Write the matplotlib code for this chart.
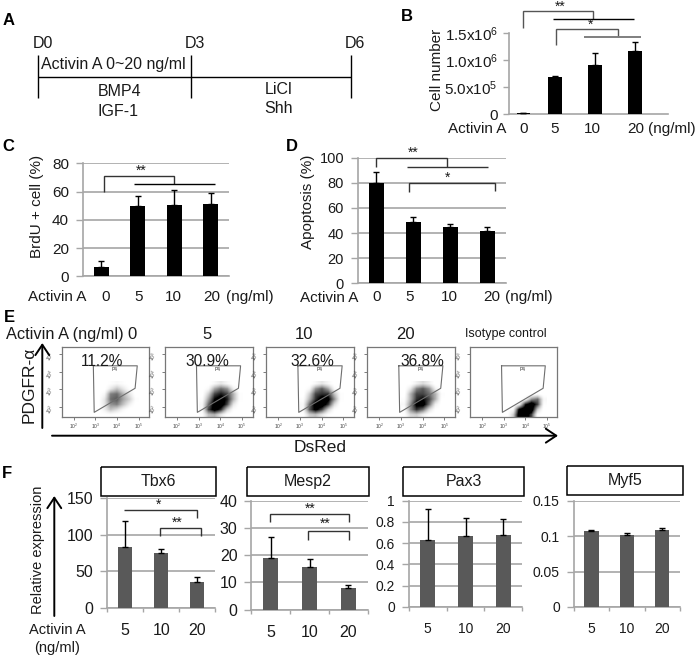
import matplotlib.pyplot as plt
from matplotlib.colors import PowerNorm

plt.rcParams['font.family'] = ['Liberation Sans', 'DejaVu Sans']
plt.rcParams['mathtext.fontset'] = 'custom'
plt.rcParams['mathtext.rm'] = 'Liberation Sans'
plt.rcParams['mathtext.default'] = 'rm'

GRID = '#a6a6a6'

# panel B
b_values = [0.02e6, 0.696e6, 0.913e6, 1.18e6]
b_errors = [0.0, 0.01e6, 0.217e6, 0.16e6]
b_ticks = [0, 0.5e6, 1.0e6, 1.5e6]
b_ticklabels = ['0', r'5.0x10$^{5}$', r'1.0x10$^{6}$', r'1.5x10$^{6}$']

# panel C
c_values = [6.5, 49.5, 50.5, 51.5]
c_errors = [4.0, 7.5, 10.5, 7.5]
c_ticks = [0, 20, 40, 60, 80]

# panel D
d_values = [80, 49, 45, 42]
d_errors = [9, 4, 2.5, 3]
d_ticks = [0, 20, 40, 60, 80, 100]

doses = ['5', '10', '20']

# panel F
tbx6_values = [83, 74.5, 35]
tbx6_errors = [36, 5.5, 7.5]
tbx6_ticks = [0, 50, 100, 150]
mesp2_values = [19, 15.5, 8]
mesp2_errors = [7.7, 3.2, 1.2]
mesp2_ticks = [0, 10, 20, 30, 40]
pax3_values = [0.63, 0.67, 0.68]
pax3_errors = [0.295, 0.165, 0.145]
pax3_ticks = [0, 0.2, 0.4, 0.6, 0.8, 1]
pax3_ticklabels = ['0', '0.2', '0.4', '0.6', '0.8', '1']
myf5_values = [0.107, 0.102, 0.108]
myf5_errors = [0.002, 0.002, 0.003]
myf5_ticks = [0, 0.05, 0.1, 0.15]
myf5_ticklabels = ['0', '0.05', '0.1', '0.15']

# panel E, density of events read by eye, rows top to bottom
flow_percent = ['11.2%', '30.9%', '32.6%', '36.8%', None]
flow_header = ['0', '5', '10', '20', 'Isotype control']
flow_gate_x = [2.9, 4.94, 4.84, 2.94, 2.9]
flow_gate_y = [4.33, 4.33, 3.06, 1.70, 4.33]
flow_density_0 = [[0, 0, .05, .1, .05, 0, 0],
                  [0, 0, .2, .35, .2, .05, 0],
                  [0, .1, .55, .6, .4, .2, 0],
                  [0, .2, .6, .65, .45, .3, .05],
                  [0, .2, .5, .55, .35, .15, 0],
                  [0, .15, .35, .25, .1, 0, 0],
                  [0, .02, .05, .02, 0, 0, 0]]
flow_density_5 = [[0, 0, .1, .2, .1, 0, 0],
                  [0, .1, .45, .6, .5, .15, 0],
                  [0, .3, .7, .8, .7, .4, .05],
                  [.05, .45, .85, .95, .8, .4, .05],
                  [.1, .6, .95, 1, .7, .2, 0],
                  [.1, .7, .95, .75, .3, .05, 0],
                  [.05, .35, .4, .2, .03, 0, 0]]
flow_density_10 = [[0, 0, .1, .2, .1, 0, 0],
                   [0, .1, .5, .65, .45, .1, 0],
                   [0, .3, .7, .75, .75, .35, .05],
                   [.05, .4, .75, .95, .9, .5, .05],
                   [.1, .6, .95, 1, .75, .25, 0],
                   [.1, .65, .9, .7, .3, .05, 0],
                   [.03, .3, .35, .2, .05, 0, 0]]
flow_density_20 = [[0, .02, .15, .25, .15, 0, 0],
                   [0, .2, .55, .65, .5, .15, 0],
                   [0, .4, .7, .7, .6, .4, .05],
                   [.05, .4, .75, .85, .7, .4, .02],
                   [.1, .5, .9, .95, .6, .15, 0],
                   [.05, .5, .75, .6, .25, .03, 0],
                   [.02, .25, .3, .15, .02, 0, 0]]
flow_density_iso = [[0, 0, 0, 0, 0, 0, 0],
                    [0, 0, 0, 0, 0, 0, 0],
                    [0, 0, 0, 0, 0, .05, 0],
                    [0, 0, 0, .1, .5, .6, .1],
                    [0, 0, .15, .8, 1, .7, .05],
                    [0, .1, .9, 1, 1, .3, 0],
                    [0, .3, 1, 1, .7, .05, 0]]
flow_density = [flow_density_0, flow_density_5, flow_density_10, flow_density_20, flow_density_iso]
flow_ticks = [2, 3, 4, 5]

W, H = 699, 659
fig = plt.figure(figsize=(W / 100, H / 100), dpi=100)


def px_axes(left, top, right, bottom):
    return fig.add_axes([left / W, 1 - bottom / H, (right - left) / W, (bottom - top) / H])


def bar_panel(box, values, errors, ticks, top, color, ticklabels=None, positions=None,
              xlim=None, width=0.4, fontsize=11, grid=True, xlabels=None, box_pad=4):
    axis = px_axes(*box)
    if positions is None:
        positions = list(range(len(values)))
    if xlim is None:
        xlim = (-0.5, len(values) - 0.5)
    axis.bar(positions, values, width, color=color, zorder=3)
    axis.errorbar(positions, values, yerr=[[0] * len(values), errors], fmt='none', ecolor='black',
                  elinewidth=1, capsize=2.5, capthick=1, zorder=4)
    axis.set_xlim(*xlim)
    axis.set_ylim(0, top)
    axis.set_yticks(ticks)
    axis.set_yticklabels(ticklabels if ticklabels else [str(t) for t in ticks], fontsize=fontsize, color='#1a1a1a')
    axis.tick_params(axis='y', length=box_pad, width=1, color=GRID, pad=box_pad)
    for side in ('top', 'right'):
        axis.spines[side].set_visible(False)
    for side in ('left', 'bottom'):
        axis.spines[side].set_color(GRID)
        axis.spines[side].set_linewidth(1.2)
    if grid:
        axis.grid(axis='y', color=GRID, linewidth=1.2, zorder=1)
    axis.set_axisbelow(True)
    if xlabels:
        axis.set_xticks(positions)
        axis.set_xticklabels(xlabels, fontsize=fontsize, color='#1a1a1a')
        axis.tick_params(axis='x', length=0, pad=11)
        axis.set_xticks([p + 0.5 for p in [-1] + positions], minor=True)
        axis.tick_params(axis='x', which='minor', length=3, width=1, color=GRID)
    else:
        axis.set_xticks([])
    return axis


bar_panel((509, 33.3, 668, 114.3), b_values, b_errors, b_ticks, 1.5e6, 'black', b_ticklabels,
          positions=[0.21, 1, 2, 3], xlim=(-0.15, 3.825), width=0.33, grid=False)
bar_panel((83, 163.3, 229, 276.3), c_values, c_errors, c_ticks, 80, 'black', width=0.4, box_pad=5)
bar_panel((358, 157.7, 505.7, 283.3), d_values, d_errors, d_ticks, 100, 'black', fontsize=10.5, width=0.4, box_pad=5)

bar_panel((107, 498.3, 215.3, 607.7), tbx6_values, tbx6_errors, tbx6_ticks, 150, '#595959',
          fontsize=11.5, xlabels=doses, box_pad=5)
bar_panel((251.3, 500.7, 367.7, 609.7), mesp2_values, mesp2_errors, mesp2_ticks, 40, '#595959',
          fontsize=11.5, xlabels=doses, box_pad=5)
bar_panel((408.7, 500.7, 522.3, 607), pax3_values, pax3_errors, pax3_ticks, 1, '#595959', pax3_ticklabels,
          fontsize=10, xlabels=doses, box_pad=5)
bar_panel((573.7, 500.7, 680, 607), myf5_values, myf5_errors, myf5_ticks, 0.15, '#595959', myf5_ticklabels,
          fontsize=10, xlabels=doses, box_pad=5)

# flow plots
flow_lefts = [61.7, 164.7, 266, 367, 470]
flow_rights = [149.3, 252.7, 354.3, 455, 557.3]
for i in range(5):
    axis = px_axes(flow_lefts[i], 346.7, flow_rights[i], 417.3)
    axis.imshow(flow_density[i], extent=(3.0, 5.0, 1.4, 3.4), cmap='gray_r',
                norm=PowerNorm(gamma=1.6, vmin=0, vmax=0.85),
                interpolation='bilinear', aspect='auto', zorder=1)
    axis.plot(flow_gate_x, flow_gate_y, color='#6e6e6e', linewidth=0.8, zorder=2)
    axis.text(3.9, 4.1, 'P4', fontsize=3.5, ha='center', va='center', color='#333333')
    axis.set_xlim(1.43, 5.5)
    axis.set_ylim(1.42, 5.41)
    axis.set_xticks(flow_ticks)
    axis.set_yticks(flow_ticks)
    axis.set_xticklabels([f'10$^{t}$' for t in flow_ticks], fontsize=3.5, color='#444444')
    axis.set_yticklabels([f'10$^{t}$' for t in flow_ticks], fontsize=3.5, color='#444444', rotation=60)
    axis.tick_params(length=2, width=0.6, color='#666666', pad=1.5)
    for spine in axis.spines.values():
        spine.set_color('#777777')
        spine.set_linewidth(0.9)

# everything else is drawn in picture pixels on top of the axes
over = fig.add_axes([0, 0, 1, 1], zorder=10)
over.set_xlim(0, W)
over.set_ylim(H, 0)
over.axis('off')


def label(x, y, s, size=11, **kw):
    kw.setdefault('ha', 'center')
    kw.setdefault('va', 'center')
    kw.setdefault('color', '#1a1a1a')
    over.text(x, y, s, fontsize=size, **kw)


def path(xs, ys, color='black', lw=1.0):
    over.plot(xs, ys, color=color, linewidth=lw, solid_capstyle='butt', solid_joinstyle='miter')


def arrow(x0, y0, x1, y1):
    over.annotate('', xy=(x1, y1), xytext=(x0, y0),
                  arrowprops=dict(arrowstyle='->,head_length=0.75,head_width=0.5', color='black',
                                  linewidth=1.4, shrinkA=0, shrinkB=0))


for s, x, y in [('A', 9, 20.7), ('B', 406.7, 16.7), ('C', 8.3, 146.7), ('D', 291.7, 146.7),
                ('E', 9, 317.7), ('F', 7.3, 474)]:
    label(x, y, s, size=12, fontweight='bold', color='black')

# panel A
for x in (38.3, 190.7, 350.7):
    path([x, x], [55, 98.3])
path([38.3, 350.7], [76.7, 76.7])
label(42.7, 43.3, 'D0', 11.5)
label(195.3, 43.3, 'D3', 11.5)
label(355.3, 43.3, 'D6', 11.5)
label(41, 64.3, 'Activin A 0~20 ng/ml', 11.5, ha='left')
label(119.3, 91.7, 'BMP4', 11.5)
label(117.7, 111, 'IGF-1', 11.5)
label(279, 89.3, 'LiCl', 11.5)
label(279, 108.3, 'Shh', 11.5)

# panel B text and brackets
label(436.7, 70, 'Cell number', 11, rotation=90)
label(447.7, 129.3, 'Activin A', 11, ha='left')
for s, x in [('0', 524), ('5', 555), ('10', 592), ('20', 635.7)]:
    label(x, 129.3, s, 11)
label(648, 129.3, '(ng/ml)', 11, ha='left')
path([522.7, 522.7, 593.3, 593.3], [28.3, 11, 11, 19.3], '#555555')
path([553.3, 634.3], [19.3, 19.3])
path([556, 556, 617.7, 617.7], [45, 28.7, 28.7, 36.7], '#555555')
path([584, 641], [36.7, 36.7], '#7f7f7f', 1.4)
label(560, 6.5, '**', 10)
label(590.7, 25, '*', 10)

# panel C text and brackets
label(36.7, 206.7, 'BrdU + cell (%)', 11, rotation=90)
label(28.3, 296.7, 'Activin A', 11, ha='left')
for s, x in [('0', 105.3), ('5', 138.7), ('10', 173), ('20', 211.7)]:
    label(x, 296.7, s, 11)
label(225.7, 296.7, '(ng/ml)', 11, ha='left')
path([103.7, 103.7, 174.3, 174.3], [191.7, 175.7, 175.7, 184], '#333333')
path([134.3, 215], [184, 184])
label(141, 171, '**', 10)

# panel D text and brackets
label(308.3, 201.7, 'Apoptosis (%)', 11, rotation=90)
label(300, 297.5, 'Activin A', 11, ha='left')
for s, x in [('0', 376.7), ('5', 410), ('10', 449.3), ('20', 491.7)]:
    label(x, 296.7, s, 11)
label(505, 296.7, '(ng/ml)', 11, ha='left')
path([376, 376, 446.7, 446.7], [166.7, 158.3, 158.3, 166.7], '#333333')
path([406.7, 487.7], [166.7, 166.7], '#333333')
path([409.3, 409.3, 494.7, 494.7], [191.7, 183, 183, 191], '#333333')
label(413.3, 153, '**', 10)
label(448, 178, '*', 10)

# panel E text
label(6, 334, 'Activin A (ng/ml)', 11.8, ha='left')
header_x = [131.7, 206.7, 304, 405, 506]
for i in range(5):
    label(header_x[i], 334.5, flow_header[i], 9 if i == 4 else 12)
percent_x = [102, 207, 312.7, 422]
for i in range(4):
    label(percent_x[i], 361, flow_percent[i], 11.2)
arrow(42.3, 428, 42.3, 343)
arrow(52, 435.7, 558, 435.7)
label(29, 385, 'PDGFR-\u03b1', 12.5, rotation=90)
label(320, 447.7, 'DsRed', 12.5)

# panel F text and brackets
gene_boxes = [('Tbx6', 101, 216.3, 467.3, 496.3), ('Mesp2', 246.7, 369.3, 467.3, 496.3),
              ('Pax3', 403.3, 523.7, 467.3, 496.3), ('Myf5', 567.3, 683.3, 466, 495.3)]
for name, x0, x1, y0, y1 in gene_boxes:
    path([x0, x1, x1, x0, x0], [y0, y0, y1, y1, y0], 'black', 1.1)
    label((x0 + x1) / 2, (y0 + y1) / 2, name, 11.5)
label(38.3, 549.7, 'Relative expression', 10.5, rotation=90)
arrow(54.3, 616, 54.3, 496)
label(57.3, 630, 'Activin A', 10.5)
label(57.3, 648.3, '(ng/ml)', 10.5)
path([124, 197.3, 197.3], [510, 510, 518.3], '#333333')
path([160.3, 160.3, 201, 201], [536, 527.7, 527.7, 536], '#333333')
label(159, 505, '*', 10)
label(177.7, 523, '**', 10)
path([270, 270, 349.3, 349.3], [522.3, 514.3, 514.3, 522.3], '#333333')
path([308.3, 308.3, 349.3, 349.3], [540, 531, 531, 540], '#333333')
label(310.7, 509, '**', 10)
label(325.7, 523.5, '**', 10)

fig.savefig('out.png', dpi=100)
